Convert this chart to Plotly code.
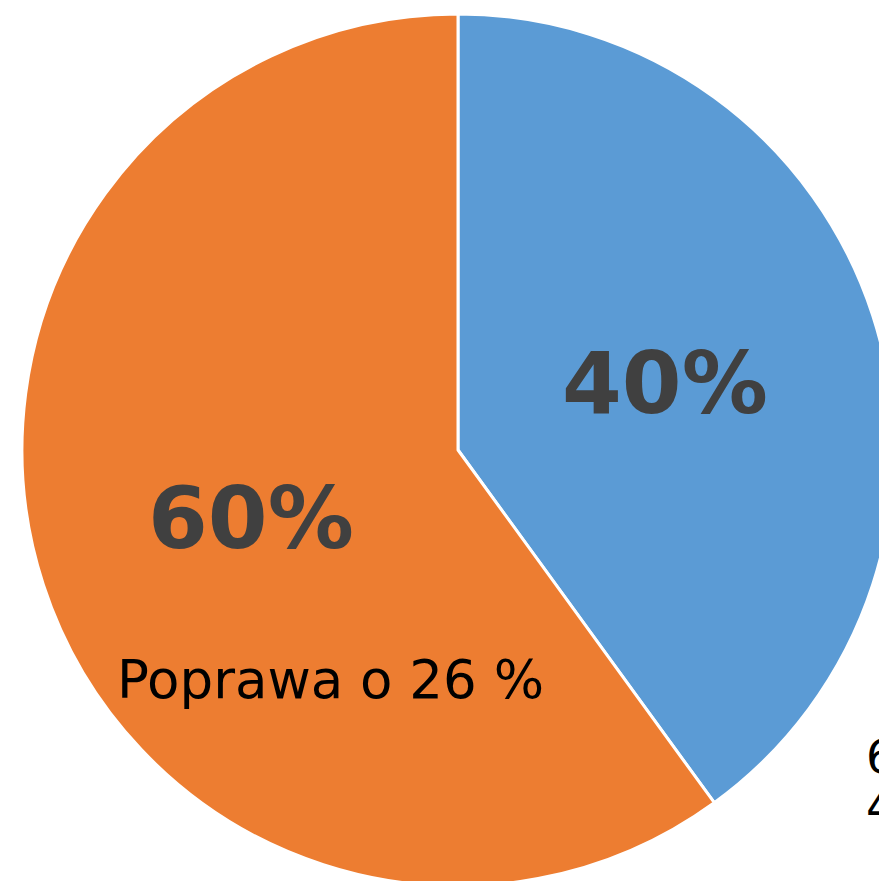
import plotly.graph_objects as go

# Data
categories = ["Poprawa", "Pozostałe"]
values = [40, 60]
slice_labels = ["40%", "60%"]
legend_texts = ["60%", "40%"]
colors = ["#5B9BD5", "#ED7D31"]

OFF = 0  # body margin removed in post_script
W, H = 916, 900

def px(x):
    return (x - OFF) / W

def py(y):
    return 1 - (y - OFF) / H

fig = go.Figure(
    go.Pie(
        labels=categories,
        values=values,
        sort=False,
        direction="clockwise",
        rotation=0,
        marker=dict(colors=colors, line=dict(color="white", width=3)),
        textinfo="none",
        hoverinfo="label+percent",
        showlegend=False,
        domain=dict(x=[0, 1], y=[1 - 886 / H, 1 - 14 / H]),
    )
)

annotations = [
    dict(x=px(665), y=py(383), text="<b>" + slice_labels[0] + "</b>",
         font=dict(size=86, color="#404040", family="DejaVu Sans")),
    dict(x=px(251), y=py(518), text="<b>" + slice_labels[1] + "</b>",
         font=dict(size=86, color="#404040", family="DejaVu Sans")),
    dict(x=px(330), y=py(679), text="Poprawa o 26 %",
         font=dict(size=53, color="#000000", family="DejaVu Sans")),
    dict(x=px(864), y=py(757), text=legend_texts[0], xanchor="left",
         font=dict(size=46, color="#000000", family="DejaVu Sans")),
    dict(x=px(864), y=py(807), text=legend_texts[1], xanchor="left",
         font=dict(size=46, color="#000000", family="DejaVu Sans")),
]
for a in annotations:
    a.update(xref="paper", yref="paper", showarrow=False)
    if "xanchor" not in a:
        a["xanchor"] = "center"
    a["yanchor"] = "middle"

fig.update_layout(
    width=W,
    height=H,
    margin=dict(l=0, r=0, t=0, b=0),
    paper_bgcolor="white",
    plot_bgcolor="white",
    annotations=annotations,
    font=dict(family="DejaVu Sans"),
)

fig.write_html(
    "out.html",
    config={"displayModeBar": False},
    post_script="document.documentElement.style.overflow='hidden';document.body.style.margin='0';",
)
